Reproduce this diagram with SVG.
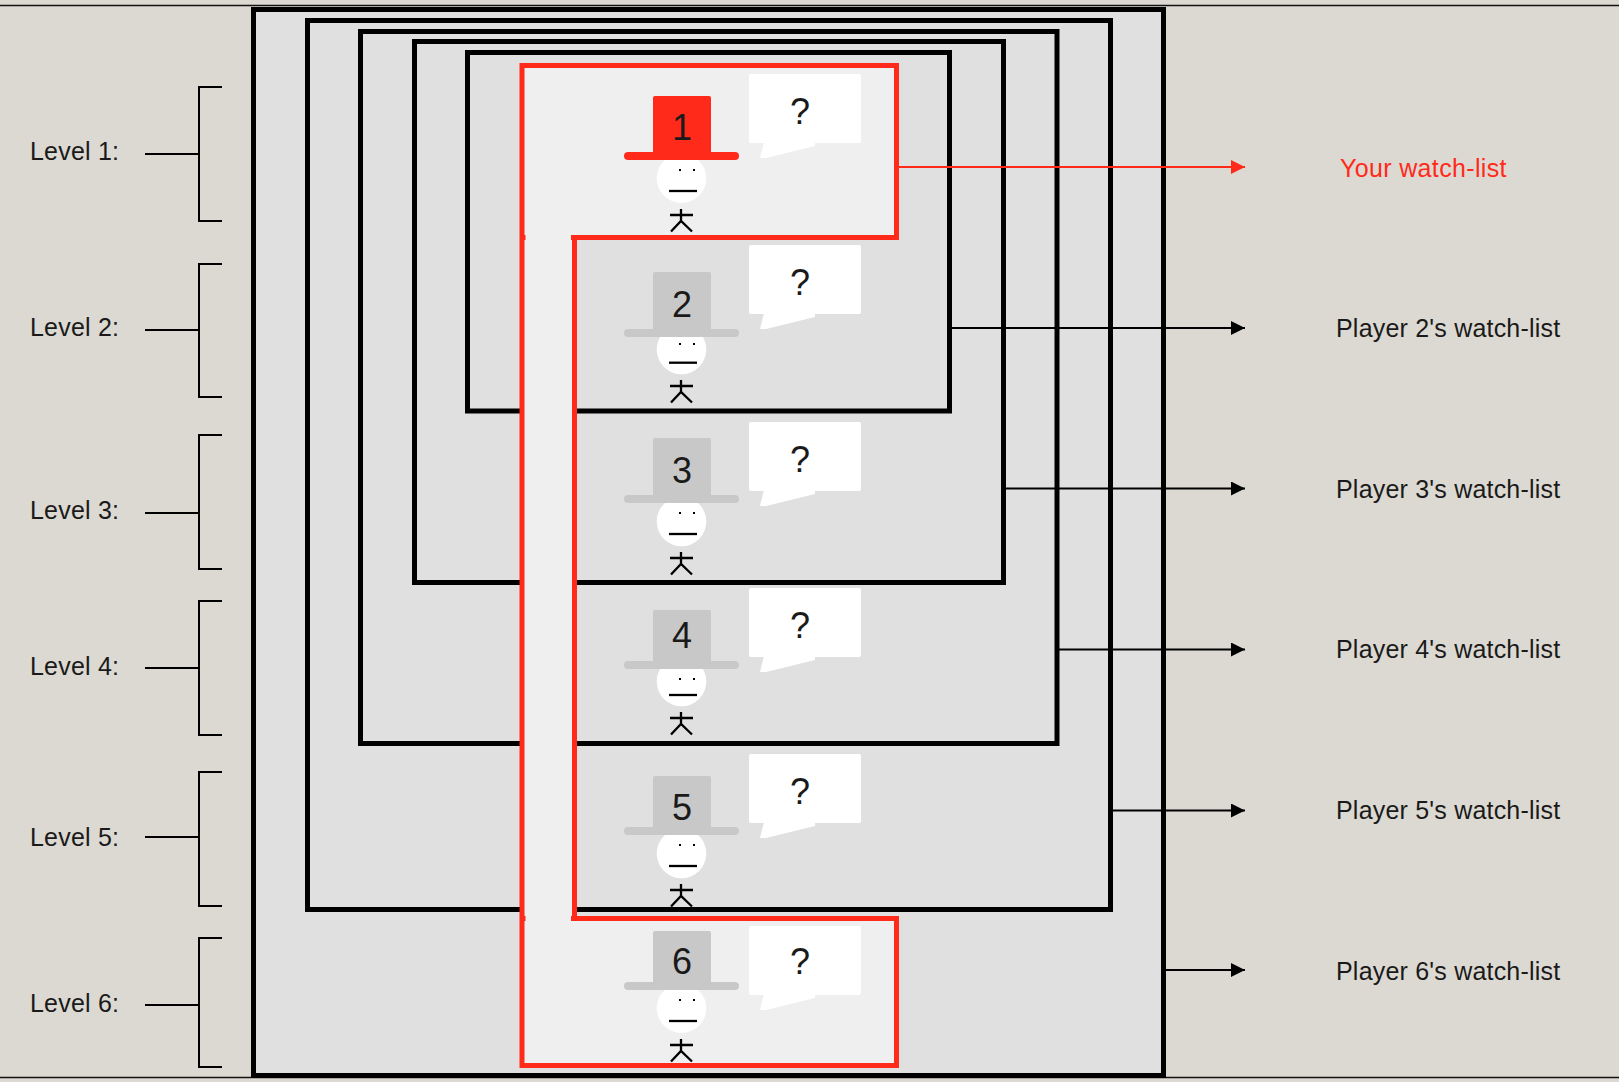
<svg xmlns="http://www.w3.org/2000/svg" width="1619" height="1082" viewBox="0 0 1619 1082">
<style>
.lbl{font-family:"Liberation Sans",Arial,sans-serif;font-size:25px;fill:#1a1a1a;letter-spacing:.2px}
.big{font-family:"Liberation Sans",Arial,sans-serif;font-size:36px;fill:#1a1a1a;text-anchor:middle}
.box{fill:#e0e0e0;stroke:#000;stroke-width:5}
.edge{fill:none;stroke:#000;stroke-width:5}
.red{fill:none;stroke:#ff2a1a;stroke-width:5}
.hat{fill:#c8c8c8}
.hat1{fill:#ff2a1a}
.face{fill:#fff}
.ink{fill:none;stroke:#000;stroke-width:2.300}
.brk{fill:none;stroke:#000;stroke-width:2}
.lk{stroke:#000;stroke-width:2;fill:none}
.lkr{stroke:#ff2a1a;stroke-width:2;fill:none}
</style>
<defs>
<marker id="ab" markerUnits="userSpaceOnUse" markerWidth="14" markerHeight="14" refX="14" refY="7" orient="auto"><path d="M0 0L14 7L0 14Z" fill="#000"/></marker>
<marker id="ar" markerUnits="userSpaceOnUse" markerWidth="14" markerHeight="14" refX="14" refY="7" orient="auto"><path d="M0 0L14 7L0 14Z" fill="#ff2a1a"/></marker>
<g id="bubble"><rect x="749" y="0" width="112" height="69" rx="2" fill="#fff"/><path d="M764 68L760 84L766 84L815 72L815 68Z" fill="#fff"/></g>
<g id="person"><path class="ink" d="M681 0V12M670 6H693M671 22.500L681 12L692 22.500"/></g>
</defs>
<rect width="1619" height="1082" fill="#dcd9d2"/>
<path d="M0 5.500H1619" stroke="#111" stroke-width="1.500"/>
<path d="M0 1077.500H1619" stroke="#111" stroke-width="1.500"/>
<g id="scopes">
<rect class="box" x="253.500" y="9.500" width="910" height="1066"/>
<rect class="edge" x="307.500" y="20.500" width="803" height="889"/>
<rect class="edge" x="360.500" y="31.500" width="696.500" height="712"/>
<rect class="edge" x="414.500" y="41.500" width="589" height="541"/>
<rect class="edge" x="467.500" y="52.500" width="482" height="358.500"/>
</g>
<g id="red-scope">
<path d="M522 65.500H896.500V237.500H574.500V918.500H896.500V1065.500H522Z" fill="#efefef"/>
<path class="red" d="M571 237.500H896.500V65.500H522V1065.500H896.500V918.500H571M574.500 237.500V918.500"/>
<path d="M524 235h1.500v5h-1.500zM524 916h1.500v5h-1.500z" fill="#ff2a1a"/>
</g>
<g id="player-1">
<use href="#bubble" y="74"/><text class="big" x="800" y="124">?</text>
<circle class="face" cx="681.500" cy="178.200" r="24.800"/>
<rect class="hat1" x="653" y="96" width="58" height="60" rx="2"/><rect class="hat1" x="624" y="152" width="115" height="8" rx="4"/>
<text class="big" x="682" y="140">1</text>
<path d="M679 169h2v2h-2zM693 169h2v2h-2z" fill="#000"/><path class="ink" d="M669 191H697"/>
<use href="#person" y="209"/>
</g>
<g id="player-2">
<use href="#bubble" y="245"/><text class="big" x="800" y="295">?</text>
<circle class="face" cx="681.500" cy="349.500" r="24.800"/>
<rect class="hat" x="653" y="272" width="58" height="60" rx="2"/><rect class="hat" x="624" y="329" width="115" height="8" rx="4"/>
<text class="big" x="682" y="317">2</text>
<path d="M679 343h2v2h-2zM693 343h2v2h-2z" fill="#000"/><path class="ink" d="M669 362.700H697"/>
<use href="#person" y="380"/>
</g>
<g id="player-3">
<use href="#bubble" y="422"/><text class="big" x="800" y="472">?</text>
<circle class="face" cx="681.500" cy="521.500" r="24.800"/>
<rect class="hat" x="653" y="438" width="58" height="60" rx="2"/><rect class="hat" x="624" y="495" width="115" height="8" rx="4"/>
<text class="big" x="682" y="483">3</text>
<path d="M679 512h2v2h-2zM693 512h2v2h-2z" fill="#000"/><path class="ink" d="M669 534H697"/>
<use href="#person" y="552"/>
</g>
<g id="player-4">
<use href="#bubble" y="588"/><text class="big" x="800" y="638">?</text>
<circle class="face" cx="681.500" cy="681.500" r="24.800"/>
<rect class="hat" x="653" y="610" width="58" height="54" rx="2"/><rect class="hat" x="624" y="661" width="115" height="8" rx="4"/>
<text class="big" x="682" y="648">4</text>
<path d="M679 678h2v2h-2zM693 678h2v2h-2z" fill="#000"/><path class="ink" d="M669 695H697"/>
<use href="#person" y="712"/>
</g>
<g id="player-5">
<use href="#bubble" y="754"/><text class="big" x="800" y="804">?</text>
<circle class="face" cx="681.500" cy="853.500" r="24.800"/>
<rect class="hat" x="653" y="776" width="58" height="54" rx="2"/><rect class="hat" x="624" y="827" width="115" height="8" rx="4"/>
<text class="big" x="682" y="820">5</text>
<path d="M679 844h2v2h-2zM693 844h2v2h-2z" fill="#000"/><path class="ink" d="M669 866H697"/>
<use href="#person" y="884"/>
</g>
<g id="player-6">
<use href="#bubble" y="926"/><text class="big" x="800" y="974">?</text>
<circle class="face" cx="681.500" cy="1008.200" r="24.800"/>
<rect class="hat" x="653" y="931" width="58" height="54" rx="2"/><rect class="hat" x="624" y="982" width="115" height="8" rx="4"/>
<text class="big" x="682" y="974">6</text>
<path d="M679 999h2v2h-2zM693 999h2v2h-2z" fill="#000"/><path class="ink" d="M669 1021H697"/>
<use href="#person" y="1039"/>
</g>
<g id="connectors">
<path class="lkr" d="M898 167H1245" marker-end="url(#ar)"/>
<path class="lk" d="M950 328H1245" marker-end="url(#ab)"/>
<path class="lk" d="M1004 488.500H1245" marker-end="url(#ab)"/>
<path class="lk" d="M1057 649.500H1245" marker-end="url(#ab)"/>
<path class="lk" d="M1111 810.500H1245" marker-end="url(#ab)"/>
<path class="lk" d="M1164 970H1245" marker-end="url(#ab)"/>
<path class="brk" d="M222 87H199V221H222M145 154H199"/>
<path class="brk" d="M222 264H199V397H222M145 330H199"/>
<path class="brk" d="M222 435H199V569H222M145 513H199"/>
<path class="brk" d="M222 601H199V735H222M145 668H199"/>
<path class="brk" d="M222 772H199V906H222M145 837H199"/>
<path class="brk" d="M222 938H199V1067H222M145 1005H199"/>
</g>
<g id="level-labels">
<text class="lbl" x="30" y="160">Level 1:</text>
<text class="lbl" x="30" y="336">Level 2:</text>
<text class="lbl" x="30" y="519">Level 3:</text>
<text class="lbl" x="30" y="675">Level 4:</text>
<text class="lbl" x="30" y="846">Level 5:</text>
<text class="lbl" x="30" y="1012">Level 6:</text>
</g>
<g id="watch-lists">
<text class="lbl" x="1340" y="177" style="fill:#ff2a1a;letter-spacing:.35px">Your watch-list</text>
<text class="lbl" x="1336" y="337">Player 2's watch-list</text>
<text class="lbl" x="1336" y="498">Player 3's watch-list</text>
<text class="lbl" x="1336" y="658">Player 4's watch-list</text>
<text class="lbl" x="1336" y="819">Player 5's watch-list</text>
<text class="lbl" x="1336" y="980">Player 6's watch-list</text>
</g>
</svg>
